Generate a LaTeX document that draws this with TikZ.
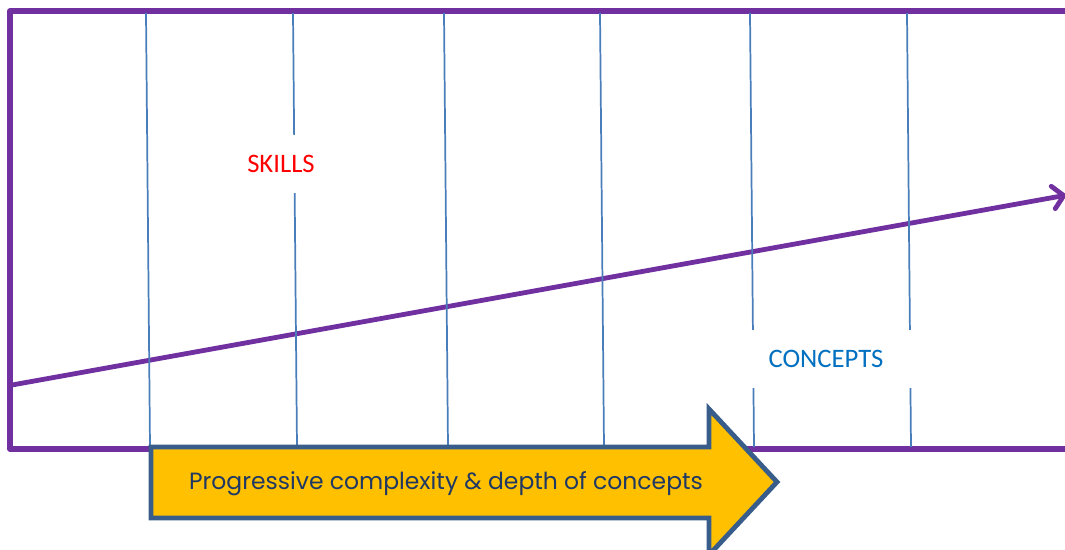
\documentclass[tikz,border=0pt]{standalone}
\usepackage{fontspec}
\setmainfont{Carlito}
\newfontfamily\gothicfont{Poppins}
\usetikzlibrary{arrows.meta}
\definecolor{borderpurple}{HTML}{7030A0}
\definecolor{gridblue}{HTML}{4A7EBB}
\definecolor{arrowgold}{HTML}{FFC000}
\definecolor{arrowedge}{HTML}{385D8A}
\definecolor{conceptblue}{HTML}{0070C0}
\definecolor{captionnavy}{HTML}{1F3864}
\tikzset{
  border/.style={draw=borderpurple, line width=4pt, line join=round},
  gridline/.style={draw=gridblue, line width=1.3pt},
  textbox/.style={fill=white, inner sep=0pt, minimum height=43pt,
    font=\fontsize{20}{22}\selectfont},
  growth/.style={draw=borderpurple, line width=3.6pt, line cap=round,
    -{Straight Barb[length=8pt,width=17pt,line cap=round]}},
  bigarrow/.style={draw=arrowedge, fill=arrowgold, line width=3.6pt, line join=miter},
  caption/.style={text=captionnavy, font=\gothicfont\fontsize{17.6}{20}\selectfont}
}
\begin{document}
\begin{tikzpicture}[x=0.75pt, y=-0.75pt]
  \useasboundingbox (0,0) rectangle (1065,550);
  \draw[border] (1080,11) -- (10,11) -- (10,449) -- (1080,449);
  \draw[growth] (12,385) -- (1067,195);
  \foreach \xt/\xb in {146/150, 293/297, 444/448, 600/604, 750/754, 907/911}
    \draw[gridline] (\xt,13) -- (\xb,447);
  \node[textbox, text=red, minimum width=82pt] (skills) at (281,164) {SKILLS};
  \node[textbox, text=conceptblue, minimum width=131pt] (concepts) at (826,359) {CONCEPTS};
  \draw[bigarrow] (151,447) -- (709,447) -- (709,409) -- (777,482)
    -- (709,555) -- (709,518) -- (151,518) -- cycle;
  \node[caption] (progress) at (446,484) {Progressive complexity \& depth of concepts};
\end{tikzpicture}
\end{document}
